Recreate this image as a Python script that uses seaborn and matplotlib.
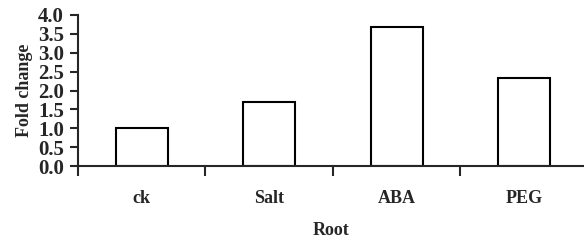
import numpy as np
import matplotlib
matplotlib.use('Agg')
import matplotlib.pyplot as plt
import seaborn as sns
import pandas as pd

categories = ['ck', 'Salt', 'ABA', 'PEG']
fold_change = [1.0, 1.7, 3.68, 2.33]
yticks = [0.0, 0.5, 1.0, 1.5, 2.0, 2.5, 3.0, 3.5, 4.0]

sns.set_style('ticks')
plt.rcParams['font.family'] = ['Liberation Serif', 'DejaVu Serif']
plt.rcParams['font.weight'] = 'bold'

df = pd.DataFrame({'cond': categories, 'fc': fold_change})

fig = plt.figure(figsize=(5.84, 2.41), dpi=100)
ax = fig.add_axes([78/584, 1 - 166/241, 1 - 78/584, 151/241])
sns.barplot(data=df, x='cond', y='fc', ax=ax, color='white', edgecolor='black',
            linewidth=1.5, width=0.41, saturation=1)

ax.set_xlim(-0.5, 3.47)
ax.set_ylim(0, 4.0)
ax.set_yticks(yticks)
ax.set_yticklabels(['%.1f' % v for v in yticks], fontsize=15, fontweight='bold')
ax.set_xticks([-0.5, 0.5, 1.5, 2.5], minor=False)
ax.set_xticklabels([])
ax.set_xticks(range(len(categories)), minor=True)
ax.set_xticklabels(categories, minor=True, fontsize=13, fontweight='bold')
ax.tick_params(axis='x', which='major', direction='out', length=7, width=1.5)
ax.tick_params(axis='x', which='minor', length=0, pad=17)
ax.tick_params(axis='y', direction='out', length=6, width=1.5, pad=4)

for s in ['top', 'right']:
    ax.spines[s].set_visible(False)
for s in ['left', 'bottom']:
    ax.spines[s].set_linewidth(1.5)

ax.set_xlabel('Root', fontsize=13, fontweight='bold', labelpad=11)
ax.set_ylabel('Fold change', fontsize=13, fontweight='bold', labelpad=4)

fig.savefig('out.png', dpi=100)
